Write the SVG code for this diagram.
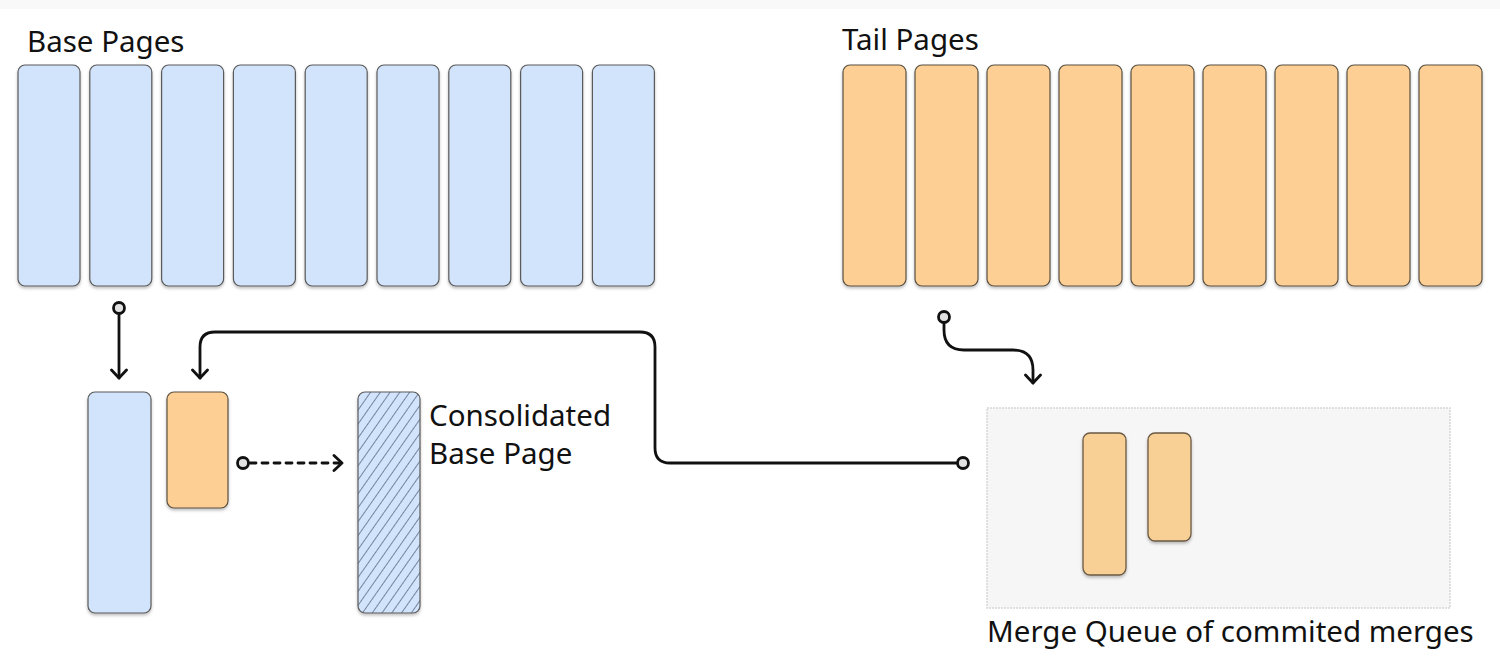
<svg xmlns="http://www.w3.org/2000/svg" width="1500" height="672" viewBox="0 0 1500 672">
<style>
.lbl{font-family:"Noto Sans","Open Sans",sans-serif;font-size:29.5px;fill:#111}
.base{fill:#d2e3fc;stroke:#5a5a5a;stroke-width:1.2}
.tail{fill:#fecf94;stroke:#5a5040;stroke-width:1.2}
.qtail{fill:#f8cf94;stroke:#6a5a44;stroke-width:1.3}
.con{fill:none;stroke:#111;stroke-width:2.8;stroke-linecap:round;stroke-linejoin:round}
.dot{fill:#e2e2e2;stroke:#111;stroke-width:2.8}
</style>
<defs>
<filter id="sh" x="-20%" y="-10%" width="140%" height="125%">
<feDropShadow dx="0" dy="2" stdDeviation="1.5" flood-color="#000" flood-opacity="0.25"/>
</filter>
<pattern id="hatch" patternUnits="userSpaceOnUse" width="8" height="8" patternTransform="rotate(35)">
<rect width="8" height="8" fill="#d2e3fc"/>
<line x1="0" y1="0" x2="0" y2="8" stroke="#2a3550" stroke-width="1.1"/>
</pattern>
<marker id="arr" viewBox="0 0 12 18" refX="10" refY="9" markerWidth="12" markerHeight="18" markerUnits="userSpaceOnUse" orient="auto">
<path d="M2,1.5 L10,9 L2,16.5" fill="none" stroke="#111" stroke-width="2.8" stroke-linecap="round" stroke-linejoin="round"/>
</marker>
</defs>
<rect x="0" y="0" width="1500" height="672" fill="#ffffff"/>
<rect x="0" y="0" width="1500" height="9" fill="#f9f9f9"/>

<g id="base-pages">
<text class="lbl" x="27" y="52">Base Pages</text>
<g filter="url(#sh)">
<rect class="base" x="18" y="65" width="62" height="221" rx="7"/>
<rect class="base" x="89.8" y="65" width="62" height="221" rx="7"/>
<rect class="base" x="161.6" y="65" width="62" height="221" rx="7"/>
<rect class="base" x="233.4" y="65" width="62" height="221" rx="7"/>
<rect class="base" x="305.2" y="65" width="62" height="221" rx="7"/>
<rect class="base" x="377" y="65" width="62" height="221" rx="7"/>
<rect class="base" x="448.8" y="65" width="62" height="221" rx="7"/>
<rect class="base" x="520.6" y="65" width="62" height="221" rx="7"/>
<rect class="base" x="592.4" y="65" width="62" height="221" rx="7"/>
</g>
</g>

<g id="tail-pages">
<text class="lbl" x="842" y="50">Tail Pages</text>
<g filter="url(#sh)">
<rect class="tail" x="843" y="65" width="63" height="221" rx="7"/>
<rect class="tail" x="915" y="65" width="63" height="221" rx="7"/>
<rect class="tail" x="987" y="65" width="63" height="221" rx="7"/>
<rect class="tail" x="1059" y="65" width="63" height="221" rx="7"/>
<rect class="tail" x="1131" y="65" width="63" height="221" rx="7"/>
<rect class="tail" x="1203" y="65" width="63" height="221" rx="7"/>
<rect class="tail" x="1275" y="65" width="63" height="221" rx="7"/>
<rect class="tail" x="1347" y="65" width="63" height="221" rx="7"/>
<rect class="tail" x="1419" y="65" width="63" height="221" rx="7"/>
</g>
</g>

<g id="base-page-copy">
<rect class="base" x="88" y="392" width="63" height="221" rx="7" filter="url(#sh)"/>
</g>

<g id="tail-page-copy">
<rect class="tail" x="167" y="392" width="61" height="116" rx="7" filter="url(#sh)"/>
</g>

<g id="consolidated-base-page">
<rect x="358" y="392" width="62" height="221" rx="7" fill="url(#hatch)" stroke="#5a5a5a" stroke-width="1.2" filter="url(#sh)"/>
<text class="lbl" x="429" y="426">Consolidated</text>
<text class="lbl" x="429" y="464">Base Page</text>
</g>

<g id="merge-queue">
<rect x="987" y="408" width="463" height="200" fill="#f6f6f6" stroke="#d6d6d6" stroke-width="1.5" stroke-dasharray="2,1"/>
<g filter="url(#sh)">
<rect class="qtail" x="1083" y="433" width="43" height="142" rx="7"/>
<rect class="qtail" x="1148" y="433" width="43" height="108" rx="7"/>
</g>
<text class="lbl" x="987" y="642">Merge Queue of commited merges</text>
</g>

<g id="connectors">
<path class="con" d="M119,314 L119,378" marker-end="url(#arr)"/>
<circle class="dot" cx="119" cy="308" r="5.5"/>
<path class="con" d="M957,463 L670,463 Q655,463 655,448 L655,347 Q655,332 640,332 L215,332 Q200,332 200,347 L200,378" marker-end="url(#arr)"/>
<circle class="dot" cx="963" cy="463" r="5.5"/>
<path class="con" d="M250,463 L342,463" stroke-dasharray="6,6" stroke-linecap="butt" marker-end="url(#arr)"/>
<circle class="dot" cx="243" cy="463" r="5.5"/>
<path class="con" d="M944,323 L944,330 Q944,350 964,350 L1013,350 Q1033,350 1033,370 L1033,383" marker-end="url(#arr)"/>
<circle class="dot" cx="944" cy="317" r="5.5"/>
</g>
</svg>
